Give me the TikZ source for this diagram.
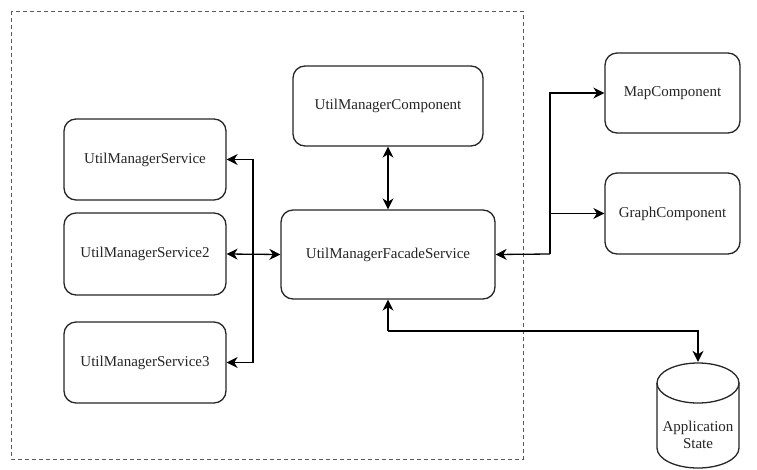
\documentclass[tikz,border=0pt]{standalone}
\usepackage{fontspec}
\setmainfont{Liberation Serif}
\usetikzlibrary{arrows.meta}
\begin{document}
\begin{tikzpicture}[x=1pt,y=-1pt,
  every node/.style={font=\fontsize{15}{17}\selectfont, text=black!85},
  box/.style={draw=black!85, line width=1.3pt, rounded corners=12pt, fill=white, inner sep=0pt},
  link/.style={draw=black, line width=1.3pt},
  tip/.style={-{Stealth[length=11pt,width=11pt,inset=3.5pt]}},
  tips/.style={{Stealth[length=11pt,width=11pt,inset=3.5pt]}-{Stealth[length=11pt,width=11pt,inset=3.5pt]}}]
  \useasboundingbox (0,0) rectangle (757,469);
  % module boundary
  \draw[black!65, line width=0.8pt, dash pattern=on 4pt off 3pt] (11,11) rectangle (523,459);

  % services on the left
  \node[box, minimum width=162pt, minimum height=81pt] (s1) at (145,159.5) {UtilManagerService};
  \node[box, minimum width=162pt, minimum height=82pt] (s2) at (145,254) {UtilManagerService2};
  \node[box, minimum width=162pt, minimum height=81pt] (s3) at (145,362.5) {UtilManagerService3};

  % facade and component
  \node[box, minimum width=214pt, minimum height=89pt] (facade) at (388,254.5) {UtilManagerFacadeService};
  \node[box, minimum width=190pt, minimum height=80pt] (comp) at (388,106) {UtilManagerComponent};

  % consumers on the right
  \node[box, minimum width=135pt, minimum height=80pt] (map) at (672.5,93) {MapComponent};
  \node[box, minimum width=135pt, minimum height=81pt] (graph) at (672.5,213.5) {GraphComponent};

  % application state store (cylinder); y axis points down here
  \node[minimum width=82pt, minimum height=106pt, inner sep=0pt] (state) at (698,415) {};
  \draw[black!85, line width=1.3pt, fill=white]
    (657,383) -- (657,448) arc[start angle=180, end angle=0, x radius=41, y radius=20]
    -- (739,383) arc[start angle=0, end angle=-180, x radius=41, y radius=20] -- cycle;
  \draw[black!85, line width=1.3pt] (657,383) arc[start angle=180, end angle=0, x radius=41, y radius=20];
  \node[align=center, font=\fontsize{15}{17}\selectfont] (statelabel) at (698,435) {Application\\State};

  % connectors
  \draw[link, tips] (comp.south) -- (facade.north);
  \draw[link, tips] (s2.east) -- (facade.west);
  \coordinate (bus) at (253,254);
  \draw[link, tip] (bus) |- (s1.east);
  \draw[link, tip] (bus) |- (s3.east);

  \coordinate (fork) at (550,254);
  \draw[link, tip] (fork) -- (facade.east);
  \draw[link, tip] (fork) |- (map.west);
  \draw[link, tip] (fork |- graph.west) -- (graph.west);

  \coordinate (bend) at (388,331);
  \draw[link, tip] (bend) -- (facade.south);
  \draw[link, tip] (bend) -| (state.north);
\end{tikzpicture}
\end{document}
